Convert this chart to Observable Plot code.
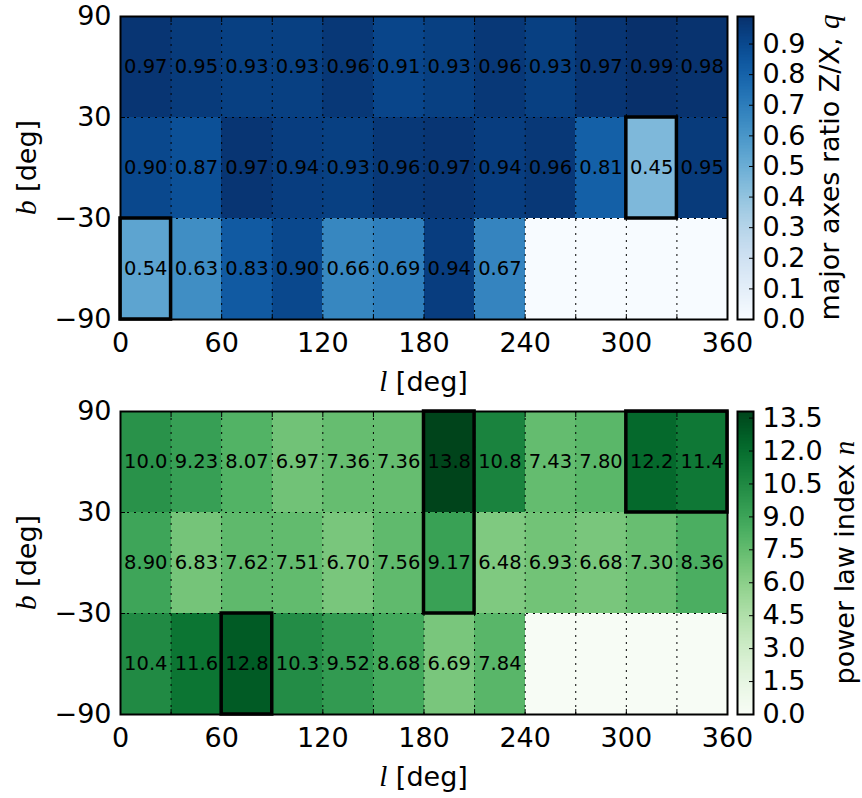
<!DOCTYPE html>
<html>
<head>
<meta charset="utf-8">
<script src="https://cdn.jsdelivr.net/npm/d3@7"></script>
<script src="https://cdn.jsdelivr.net/npm/@observablehq/plot@0.6"></script>
<style>
  html, body { margin: 0; padding: 0; background: #fff; }
  #fig { position: relative; width: 862px; height: 798px; background: #fff; font-family: "DejaVu Sans", sans-serif; }
  #fig svg { position: absolute; overflow: visible; }
</style>
</head>
<body>
<div id="fig"></div>
<script>
// ---- data ----
const lEdges = [0, 30, 60, 90, 120, 150, 180, 210, 240, 270, 300, 330, 360];
const bEdges = [-90, -30, 30, 90];
const lTickLabels = [0, 60, 120, 180, 240, 300, 360];
const bTickLabels = [-90, -30, 30, 90];

// rows ordered from b = -90..-30, -30..30, 30..90
const qLow  = [0.54, 0.63, 0.83, 0.90, 0.66, 0.69, 0.94, 0.67, null, null, null, null];
const qMid  = [0.90, 0.87, 0.97, 0.94, 0.93, 0.96, 0.97, 0.94, 0.96, 0.81, 0.45, 0.95];
const qHigh = [0.97, 0.95, 0.93, 0.93, 0.96, 0.91, 0.93, 0.96, 0.93, 0.97, 0.99, 0.98];

const nLow  = [10.4, 11.6, 12.8, 10.3, 9.52, 8.68, 6.69, 7.84, null, null, null, null];
const nMid  = [8.90, 6.83, 7.62, 7.51, 6.70, 7.56, 9.17, 6.48, 6.93, 6.68, 7.30, 8.36];
const nHigh = [10.0, 9.23, 8.07, 6.97, 7.36, 7.36, 13.8, 10.8, 7.43, 7.80, 12.2, 11.4];

const qHighlights = [
  {l1: 0, l2: 30, b1: -90, b2: -30},
  {l1: 300, l2: 330, b1: -30, b2: 30}
];
const nHighlights = [
  {l1: 180, l2: 210, b1: -30, b2: 90},
  {l1: 300, l2: 360, b1: 30, b2: 90},
  {l1: 60, l2: 90, b1: -90, b2: -30}
];

const qTicks = [0.0, 0.1, 0.2, 0.3, 0.4, 0.5, 0.6, 0.7, 0.8, 0.9];
const nTicks = [0.0, 1.5, 3.0, 4.5, 6.0, 7.5, 9.0, 10.5, 12.0, 13.5];
const qMax = 0.99;
const nMax = 13.8;

function buildCells(rows) {
  const cells = [];
  rows.forEach((row, j) => {
    row.forEach((v, i) => {
      cells.push({l1: lEdges[i], l2: lEdges[i + 1], b1: bEdges[j], b2: bEdges[j + 1], v});
    });
  });
  return cells;
}

const fig = document.getElementById("fig");
const FS = 27;

function addLabel(svg, x, y, rotate, parts, size) {
  const t = d3.select(svg).append("text")
    .attr("transform", `translate(${x},${y}) rotate(${rotate})`)
    .attr("text-anchor", "middle")
    .attr("dy", "0.35em")
    .attr("font-family", "DejaVu Sans")
    .attr("font-size", size)
    .attr("fill", "black");
  parts.forEach(p => {
    const ts = t.append("tspan").text(p.t);
    if (p.italic) ts.attr("font-style", "italic").attr("font-family", "Liberation Serif").attr("font-size", size * 1.08);
  });
}

function panel({rows, highlights, scheme, vmax, fmt, top, mt, mb, height, ticks, cbLabel, cbLabelX}) {
  const W = 735;
  const cells = buildCells(rows);
  const innerL = lEdges.slice(1, -1);
  const innerB = bEdges.slice(1, -1);
  const color = {type: "linear", scheme, domain: [0, vmax]};
  const plot = Plot.plot({
    width: W, height,
    marginLeft: 120, marginRight: 8, marginTop: mt, marginBottom: mb,
    style: {fontFamily: "DejaVu Sans", fontSize: FS + "px", color: "black", background: "transparent", overflow: "visible"},
    x: {domain: [0, 360], label: null},
    y: {domain: [-90, 90], label: null},
    color,
    marks: [
      Plot.rect(cells, {x1: "l1", x2: "l2", y1: "b1", y2: "b2", fill: d => d.v ?? 0, shapeRendering: "crispEdges"}),
      Plot.ruleX(innerL, {stroke: "black", strokeWidth: 1, strokeDasharray: "2,5"}),
      Plot.ruleY(innerB, {stroke: "black", strokeWidth: 1, strokeDasharray: "2,5"}),
      Plot.text(cells.filter(d => d.v != null), {
        x: d => (d.l1 + d.l2) / 2, y: d => (d.b1 + d.b2) / 2,
        text: d => fmt(d.v), fontSize: 19.5, fill: "black", fontFamily: "DejaVu Sans"
      }),
      Plot.rect(highlights, {x1: "l1", x2: "l2", y1: "b1", y2: "b2", fill: "none", stroke: "black", strokeWidth: 3.5}),
      Plot.frame({stroke: "black", strokeWidth: 2}),
      // inward tick marks
      Plot.axisX({anchor: "bottom", ticks: lEdges, tickSize: -5, tickFormat: () => ""}),
      Plot.axisX({anchor: "top", ticks: lEdges, tickSize: -5, tickFormat: () => ""}),
      Plot.axisY({anchor: "left", ticks: bTickLabels, tickSize: -5, tickFormat: () => ""}),
      Plot.axisY({anchor: "right", ticks: bTickLabels, tickSize: -5, tickFormat: () => ""}),
      // labels
      Plot.axisX({anchor: "bottom", ticks: lTickLabels, tickSize: 0, tickPadding: 13, tickFormat: d => String(d)}),
      Plot.axisY({anchor: "left", ticks: bTickLabels, tickSize: 0, tickPadding: 9})
    ]
  });
  plot.style.left = "0px";
  plot.style.top = top + "px";
  fig.appendChild(plot);
  const plotH = height - mt - mb;
  addLabel(plot, 120 + 607 / 2, height - mb + 63, 0, [{t: "l", italic: true}, {t: " [deg]"}], FS);
  addLabel(plot, 27, mt + plotH / 2, -90, [{t: "b", italic: true}, {t: " [deg]"}], FS);

  // colorbar
  const N = 200;
  const steps = d3.range(N);
  const cb = Plot.plot({
    width: 135, height,
    marginLeft: 10, marginRight: 109, marginTop: mt, marginBottom: mb,
    style: {fontFamily: "DejaVu Sans", fontSize: FS + "px", color: "black", background: "transparent", overflow: "visible"},
    x: {domain: [0, 1], axis: null},
    y: {domain: [0, vmax], axis: null},
    color,
    marks: [
      Plot.rect(steps, {x1: 0, x2: 1, y1: i => i * vmax / N, y2: i => (i + 1) * vmax / N, fill: i => (i + 0.5) * vmax / N, shapeRendering: "crispEdges"}),
      Plot.frame({stroke: "black", strokeWidth: 2}),
      Plot.axisY({anchor: "right", ticks, tickSize: -5, tickFormat: () => ""}),
      Plot.axisY({anchor: "right", ticks, tickSize: 0, tickPadding: 9, tickFormat: d => d.toFixed(1)})
    ]
  });
  cb.style.left = "727px";
  cb.style.top = top + "px";
  fig.appendChild(cb);
  addLabel(cb, cbLabelX, mt + plotH / 2, -90, cbLabel, FS);
}

panel({
  rows: [qLow, qMid, qHigh], highlights: qHighlights, scheme: "blues", vmax: qMax,
  fmt: v => v.toFixed(2), top: 0, mt: 16, mb: 79, height: 398, ticks: qTicks,
  cbLabel: [{t: "major axes ratio Z/X, "}, {t: "q", italic: true}], cbLabelX: 103
});
panel({
  rows: [nLow, nMid, nHigh], highlights: nHighlights, scheme: "greens", vmax: nMax,
  fmt: v => v.toPrecision(3), top: 398, mt: 13, mb: 84, height: 400, ticks: nTicks,
  cbLabel: [{t: "power law index "}, {t: "n", italic: true}], cbLabelX: 118
});
</script>
</body>
</html>
